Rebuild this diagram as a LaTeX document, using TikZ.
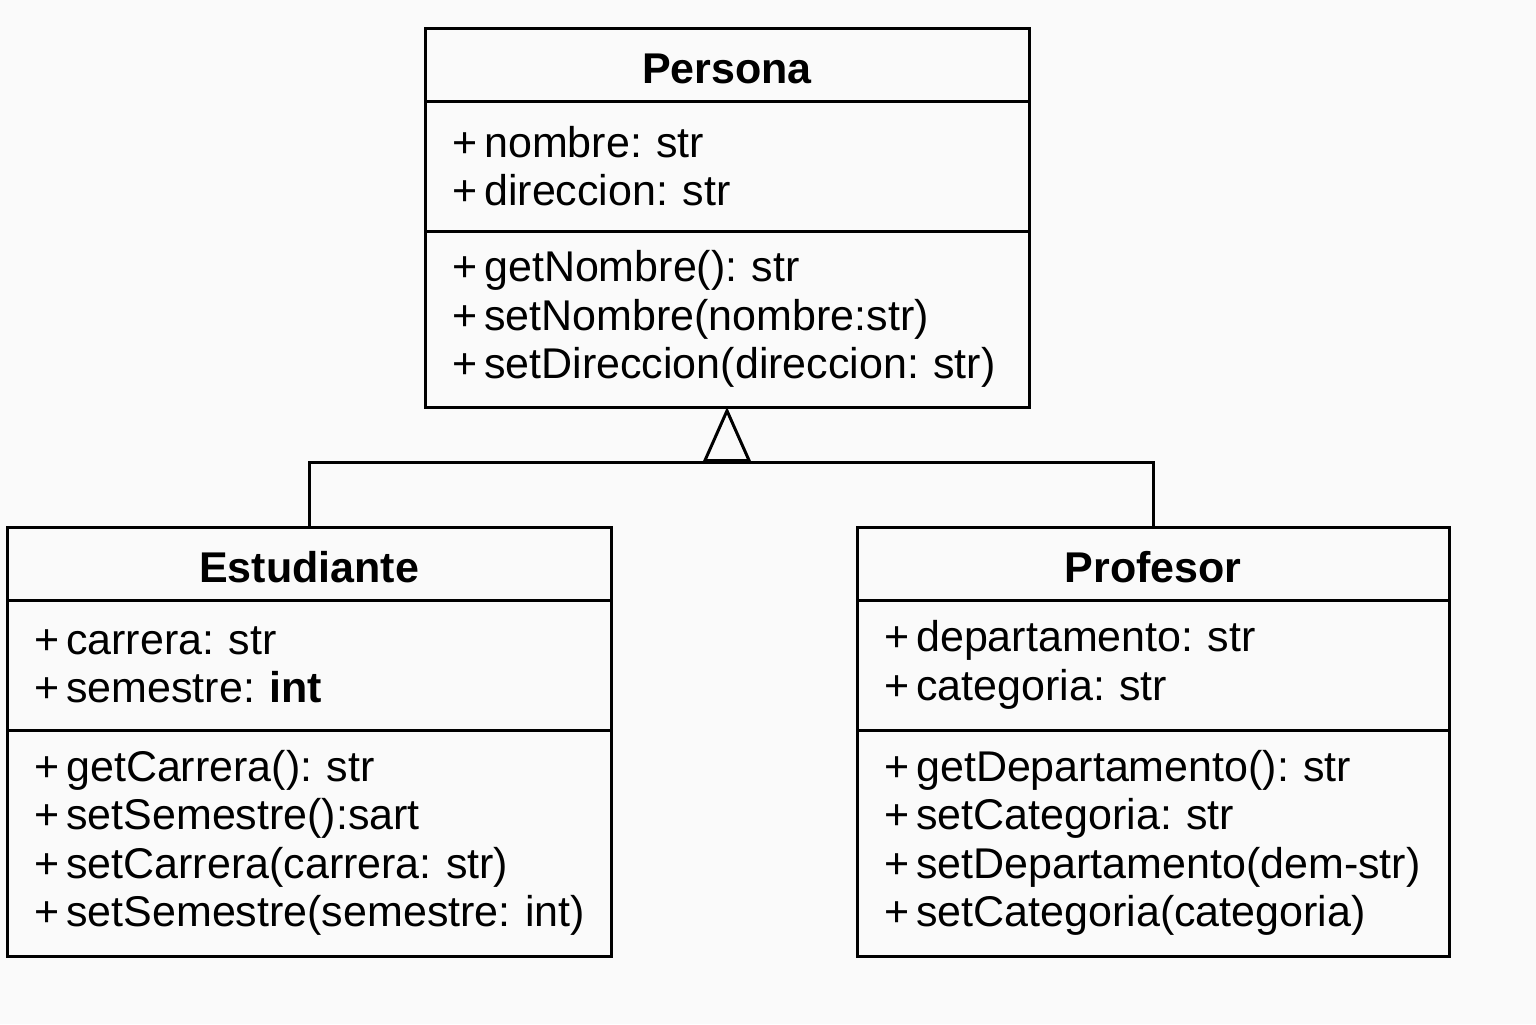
\documentclass[tikz,border=0pt]{standalone}
\usepackage{fontspec}
\setmainfont{Liberation Sans}
\usepackage{tikz}
\usetikzlibrary{positioning,arrows.meta}
\frenchspacing

\begin{document}
\begin{tikzpicture}[
  x=0.5pt, y=-0.5pt,
  every node/.style = {draw, line width=1.5pt, inner sep=0pt, outer sep=0pt,
      font=\fontsize{21.5pt}{24.25pt}\selectfont},
  cabecera/.style = {minimum width=#1, minimum height=36.5pt, anchor=north west,
      text height=20pt, text depth=1.5pt, font=\fontsize{21.5pt}{24.25pt}\selectfont\bfseries},
  seccion/.style = {text width=#1, inner xsep=13.5pt, align=left}
]

  % Fondo
  \fill[white!98!black] (0,0) rectangle (1536,1024);

  % Nodos
  \node[cabecera=302pt] (P) at (425,28) {Persona};
  \node[seccion=275pt, minimum height=65pt, below=0pt of P] (Pa)
    {+\,nombre: str\\+\,direccion: str};
  \node[seccion=275pt, minimum height=88pt, below=0pt of Pa] (Pm)
    {+\,getNombre(): str\\+\,setNombre(nombre:str)\\+\,\mbox{setDireccion(direccion: str)}};

  \node[cabecera=302pt] (E) at (7,527) {Estudiante};
  \node[seccion=275pt, minimum height=65pt, below=0pt of E] (Ea)
    {+\,carrera: str\\+\,semestre: \textbf{int}};
  \node[seccion=275pt, minimum height=113pt, below=0pt of Ea] (Em)
    {+\,getCarrera(): str\\+\,setSemestre():sart\\+\,setCarrera(carrera: str)\\+\,\mbox{setSemestre(semestre: int)}};

  \node[cabecera=296pt] (R) at (857,527) {Profesor};
  \node[seccion=269pt, minimum height=65pt, below=0pt of R] (Ra)
    {+\,departamento: str\\+\,categoria: str};
  \node[seccion=269pt, minimum height=113pt, below=0pt of Ra] (Rm)
    {+\,getDepartamento(): str\\+\,setCategoria: str\\+\,setDepartamento(\mbox{dem-str})\\+\,setCategoria(categoria)};

  % Herencia
  \coordinate[below=27.5pt of Pm.south] (base);
  \draw[line width=1.5pt] (E.north) |- (base) -| (R.north);
  \draw[line width=1.5pt, -{Triangle[open, length=27.5pt, width=24pt]}] (base) -- (Pm.south);

\end{tikzpicture}
\end{document}
